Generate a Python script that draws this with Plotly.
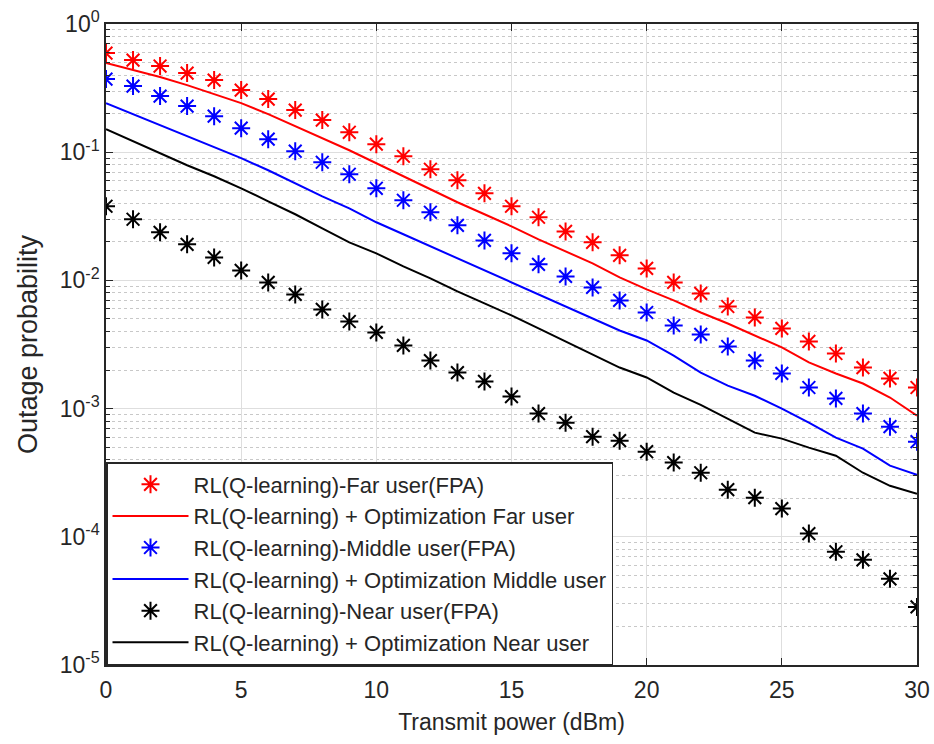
import numpy as np
import plotly.graph_objects as go

# Transmit power axis (dBm)
power_dbm = list(range(0, 31))

# Outage probability, fixed power allocation (markers)
far_fpa = [0.593, 0.523, 0.470, 0.414, 0.365, 0.305, 0.2595, 0.213, 0.178, 0.143,
           0.1155, 0.0930, 0.0736, 0.0604, 0.0478, 0.0379, 0.0311, 0.0241, 0.0198, 0.01568,
           0.01241, 0.00965, 0.00791, 0.00626, 0.00514, 0.00422, 0.00334, 0.00269, 0.00209,
           0.00172, 0.00146]
middle_fpa = [0.372, 0.328, 0.274, 0.229, 0.191, 0.154, 0.1263, 0.1018, 0.0835, 0.0673,
              0.0523, 0.0422, 0.0340, 0.0269, 0.0205, 0.01625, 0.01334, 0.01074, 0.00882,
              0.00698, 0.00562, 0.00445, 0.00379, 0.00305, 0.00237, 0.00188, 0.00146,
              0.00120, 0.000914, 0.000723, 0.000552]
near_fpa = [0.0379, 0.0300, 0.0237, 0.0191, 0.01512, 0.01197, 0.00965, 0.00777, 0.00594,
            0.00478, 0.00393, 0.00311, 0.00237, 0.00191, 0.00163, 0.00124, 0.000914,
            0.000777, 0.000604, 0.000562, 0.000461, 0.000379, 0.000316, 0.000233,
            0.000202, 0.000166, 0.000106, 0.0000764, 0.0000661, 0.0000470, 0.0000284]

# Outage probability, RL + optimization (lines)
far_opt = [0.4958, 0.4372, 0.3855, 0.3337, 0.2838, 0.2414, 0.1981, 0.1596, 0.1286, 0.1036,
           0.0820, 0.0649, 0.0514, 0.0407, 0.0328, 0.0264, 0.0209, 0.01685, 0.01358, 0.01055,
           0.00851, 0.00698, 0.00562, 0.00461, 0.00372, 0.00300, 0.00229, 0.00188, 0.00157,
           0.00122, 0.000882]
middle_opt = [0.2414, 0.1981, 0.1625, 0.1334, 0.1094, 0.0898, 0.0723, 0.0573, 0.0453, 0.0365,
              0.0284, 0.0229, 0.01843, 0.01485, 0.01197, 0.00965, 0.00777, 0.00626, 0.00505,
              0.00407, 0.00340, 0.00259, 0.00191, 0.00151, 0.00126, 0.00100, 0.000777,
              0.000593, 0.000487, 0.000359, 0.000305]
near_opt = [0.1513, 0.1219, 0.0982, 0.0791, 0.0649, 0.0523, 0.0414, 0.0328, 0.0255, 0.0198,
            0.01625, 0.01286, 0.01036, 0.00820, 0.00661, 0.00533, 0.00422, 0.00334, 0.00264,
            0.00209, 0.00175, 0.00133, 0.00107, 0.000835, 0.000649, 0.000583, 0.000496,
            0.000429, 0.000316, 0.000250, 0.000217]

series_names = [
    "RL(Q-learning)-Far user(FPA)",
    "RL(Q-learning) + Optimization Far user",
    "RL(Q-learning)-Middle user(FPA)",
    "RL(Q-learning) + Optimization Middle user",
    "RL(Q-learning)-Near user(FPA)",
    "RL(Q-learning) + Optimization Near user",
]
x_ticks = [0, 5, 10, 15, 20, 25, 30]
y_tick_exponents = [0, -1, -2, -3, -4, -5]
y_tick_labels = ["10<sup>0</sup>", "10<sup>-1</sup>", "10<sup>-2</sup>",
                 "10<sup>-3</sup>", "10<sup>-4</sup>", "10<sup>-5</sup>"]

FONT = "Liberation Sans, Arial, Helvetica, sans-serif"
INK = "#262626"

fig = go.Figure()

groups = [
    (far_fpa, far_opt, "#ff0000"),
    (middle_fpa, middle_opt, "#0000ff"),
    (near_fpa, near_opt, "#000000"),
]
for i, (fpa, opt, color) in enumerate(groups):
    fig.add_trace(go.Scatter(
        x=power_dbm, y=fpa, mode="markers", name=series_names[2 * i],
        marker=dict(symbol="asterisk-open", size=15, color=color,
                    line=dict(color=color, width=2)),
    ))
    fig.add_trace(go.Scatter(
        x=power_dbm, y=opt, mode="lines", name=series_names[2 * i + 1],
        line=dict(color=color, width=2),
    ))

# minor log ticks 2..9 inside each decade
minor_vals = [m * 10.0 ** e for e in range(-5, 0) for m in range(2, 10)]

fig.update_xaxes(
    range=[0, 30], tickvals=x_ticks, ticks="inside", ticklen=7, tickcolor=INK,
    showline=True, linecolor=INK, linewidth=1.5, mirror="ticks",
    showgrid=True, gridcolor="#dedede", gridwidth=1, zeroline=False,
    automargin=False, ticklabelstandoff=4,
    tickfont=dict(family=FONT, size=23, color=INK),
    title=dict(text="Transmit power (dBm)", font=dict(family=FONT, size=23, color=INK),
               standoff=12),
)
fig.update_yaxes(
    type="log", range=[-5, 0],
    tickvals=[10.0 ** e for e in y_tick_exponents], ticktext=y_tick_labels,
    ticks="inside", ticklen=7, tickcolor=INK,
    showline=True, linecolor=INK, linewidth=1.5, mirror="ticks",
    showgrid=True, gridcolor="#dedede", gridwidth=1, zeroline=False,
    automargin=False,
    minor=dict(tickvals=minor_vals, ticks="inside", ticklen=4, tickcolor=INK,
               showgrid=True, gridcolor="#c8c8c8", griddash="3px,3px", gridwidth=1),
    tickfont=dict(family=FONT, size=23, color=INK),
    title=dict(text="Outage probability", font=dict(family=FONT, size=27, color=INK),
               standoff=14),
)

fig.update_layout(
    width=934, height=744,
    margin=dict(l=106, r=17, t=24, b=79),
    paper_bgcolor="white", plot_bgcolor="white",
    font=dict(family=FONT, color=INK),
    showlegend=True,
    legend=dict(
        x=0, y=0, xanchor="left", yanchor="bottom",
        bgcolor="white", bordercolor=INK, borderwidth=1.5,
        font=dict(family=FONT, size=22, color=INK),
        itemwidth=76, traceorder="normal",
    ),
)

fig.write_html("out.html")
